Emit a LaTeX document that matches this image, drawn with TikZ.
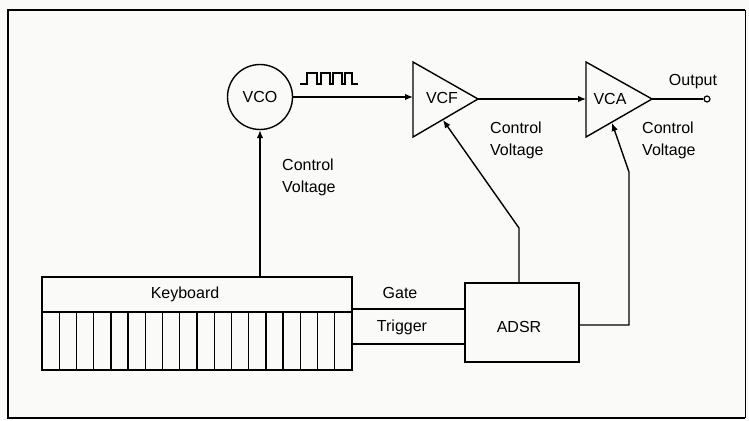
\documentclass[tikz,border=0pt]{standalone}
\usepackage{fontspec}
\setmainfont{Liberation Sans}
\usetikzlibrary{arrows.meta}
\definecolor{paper}{RGB}{250,250,248}
\tikzset{
  wire/.style={line width=1.4pt, line join=miter},
  arr/.style={wire, -{Latex[length=8pt,width=6.5pt]}},
  lbl/.style={font=\fontsize{16}{22}\selectfont, inner sep=0pt},
  cv/.style={lbl, align=left, anchor=west},
  blockbox/.style={draw, line width=1.4pt, inner sep=0pt}
}
\begin{document}
\begin{tikzpicture}[x=1pt,y=-1pt]
\useasboundingbox (0,0) rectangle (749,420);
\fill[paper] (0,0) rectangle (749,420);
% frame
\draw[line width=1.8pt] (745,10) -- (8,10) -- (8,418) -- (745,418);
\draw[line width=1pt] (745,10) -- (745,418);

% VCO
\node[blockbox, circle, minimum size=65pt] (vco) at (260,97) {};
\node[lbl] (vcot) at (260,97) {VCO};

% square wave
\draw[line width=1.3pt] (300,84) -- (307,84) -- (307,73) -- (317,73) -- (317,84)
  -- (321,84) -- (321,73) -- (330,73) -- (330,84) -- (333,84) -- (333,73)
  -- (342,73) -- (342,84) -- (345,84) -- (345,73) -- (352,73) -- (352,84) -- (358,84);

% VCF triangle
\coordinate (vcfA) at (413,62);
\coordinate (vcfB) at (413,137);
\coordinate (vcfout) at (478,99);
\coordinate (vcfin) at (413,97);
\coordinate (vcfcv) at (443,120);
\draw[wire, line join=miter] (vcfA) -- (vcfout) -- (vcfB) -- cycle;
\node[lbl] (vcft) at (442,98) {VCF};

% VCA triangle
\coordinate (vcaA) at (586,62);
\coordinate (vcaB) at (586,137);
\coordinate (vcaout) at (652,99);
\coordinate (vcain) at (586,99);
\coordinate (vcacv) at (612,123);
\draw[wire, line join=miter] (vcaA) -- (vcaout) -- (vcaB) -- cycle;
\node[lbl] (vcat) at (610,99) {VCA};

% output
\node[draw, circle, line width=1.2pt, minimum size=6pt, inner sep=0pt] (outp) at (707,99) {};
\node[lbl] (outt) at (693,82) {Output};

% Keyboard
\node[blockbox, minimum width=310pt, minimum height=93pt] (kbd) at (197,323.5) {};
\draw[wire] (42,312) -- (352,312);
\foreach \k in {1,...,17} {
  \draw[wire] ({42+\k*17.22},312) -- ({42+\k*17.22},370);
}
\node[lbl] (kbdt) at (185,294) {Keyboard};

% ADSR
\node[blockbox, minimum width=114pt, minimum height=79pt] (adsr) at (522,322.5) {};
\node[lbl] (adsrt) at (519,327) {ADSR};

% connections
\draw[arr] (vco.east |- 0,97) -- (vcfin);
\draw[arr] (vcfout) -- (vcain);
\draw[wire] (vcaout) -- (outp.west);
\draw[arr] (260,277) -- (vco.south);
\coordinate (kg) at (352,309);
\coordinate (kt) at (352,344);
\draw[wire] (kg) -- (kg -| adsr.west);
\draw[wire] (kt) -- (kt -| adsr.west);
\coordinate (a1) at (519,228);
\draw[arr] (519,283) -- (a1) -- (vcfcv);
\coordinate (a2) at (629,325);
\coordinate (a3) at (629,172);
\draw[arr] (adsr.east |- a2) -- (a2) -- (a3) -- (vcacv);

% labels
\node[lbl] (gate) at (400,293) {Gate};
\node[lbl] (trig) at (402,327) {Trigger};
\node[cv] (cv1) at (282,177) {Control\\Voltage};
\node[cv] (cv2) at (490,140) {Control\\Voltage};
\node[cv] (cv3) at (642,140) {Control\\Voltage};
\end{tikzpicture}
\end{document}
